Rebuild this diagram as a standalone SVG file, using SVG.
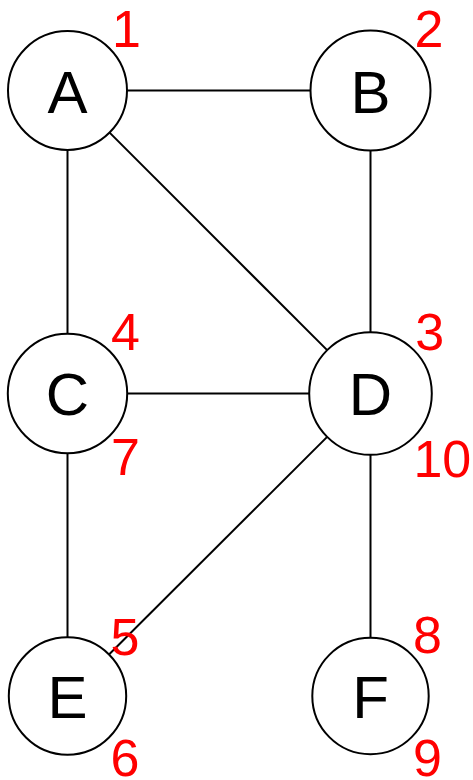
<svg xmlns="http://www.w3.org/2000/svg" width="473" height="780" viewBox="0 0 473 780">
<style>
.n{fill:#fff;stroke:#000;stroke-width:2}
.l{font-family:"Liberation Sans",Arial,sans-serif;font-size:60px;text-anchor:middle;fill:#000}
.k{font-family:"Liberation Sans",Arial,sans-serif;font-size:52px;text-anchor:middle;fill:#f00}
.e{stroke:#000;stroke-width:2;fill:none}
</style>
<rect width="473" height="780" fill="#fff"/>
<g id="edges">
<line class="e" x1="127" y1="90.5" x2="310.5" y2="90.5"/>
<line class="e" x1="67.5" y1="150" x2="67.5" y2="333.8"/>
<line class="e" x1="109.6" y1="132.6" x2="327.15" y2="350.15"/>
<line class="e" x1="370.5" y1="150.5" x2="370.5" y2="332.2"/>
<line class="e" x1="127.2" y1="393.5" x2="309.2" y2="393.5"/>
<line class="e" x1="67.5" y1="453.2" x2="67.5" y2="637.3"/>
<line class="e" x1="327.15" y1="436.85" x2="109" y2="654.5"/>
<line class="e" x1="370.5" y1="454.8" x2="370.5" y2="637.8"/>
</g>
<g id="A"><circle class="n" cx="67.5" cy="90.5" r="59.5"/><text class="l" x="67.5" y="112.7">A</text><text class="k" x="126.5" y="47">1</text></g>
<g id="B"><circle class="n" cx="370.5" cy="90.5" r="60"/><text class="l" x="370.5" y="112.7">B</text><text class="k" x="429" y="47">2</text></g>
<g id="C"><circle class="n" cx="67.5" cy="393.5" r="59.7"/><text class="l" x="67.5" y="414.5">C</text><text class="k" x="125.5" y="350">4</text><text class="k" x="125.5" y="475">7</text></g>
<g id="D"><circle class="n" cx="370.5" cy="393.5" r="61.3"/><text class="l" x="370.5" y="414.5">D</text><text class="k" x="429.7" y="350">3</text><text class="k" x="442.3" y="477">10</text></g>
<g id="E"><circle class="n" cx="67.5" cy="696" r="58.7"/><text class="l" x="67.5" y="718">E</text><text class="k" x="125" y="655">5</text><text class="k" x="125" y="776">6</text></g>
<g id="F"><circle class="n" cx="370.5" cy="696" r="58.2"/><text class="l" x="370.5" y="718">F</text><text class="k" x="427.5" y="653">8</text><text class="k" x="427.5" y="776">9</text></g>
</svg>
